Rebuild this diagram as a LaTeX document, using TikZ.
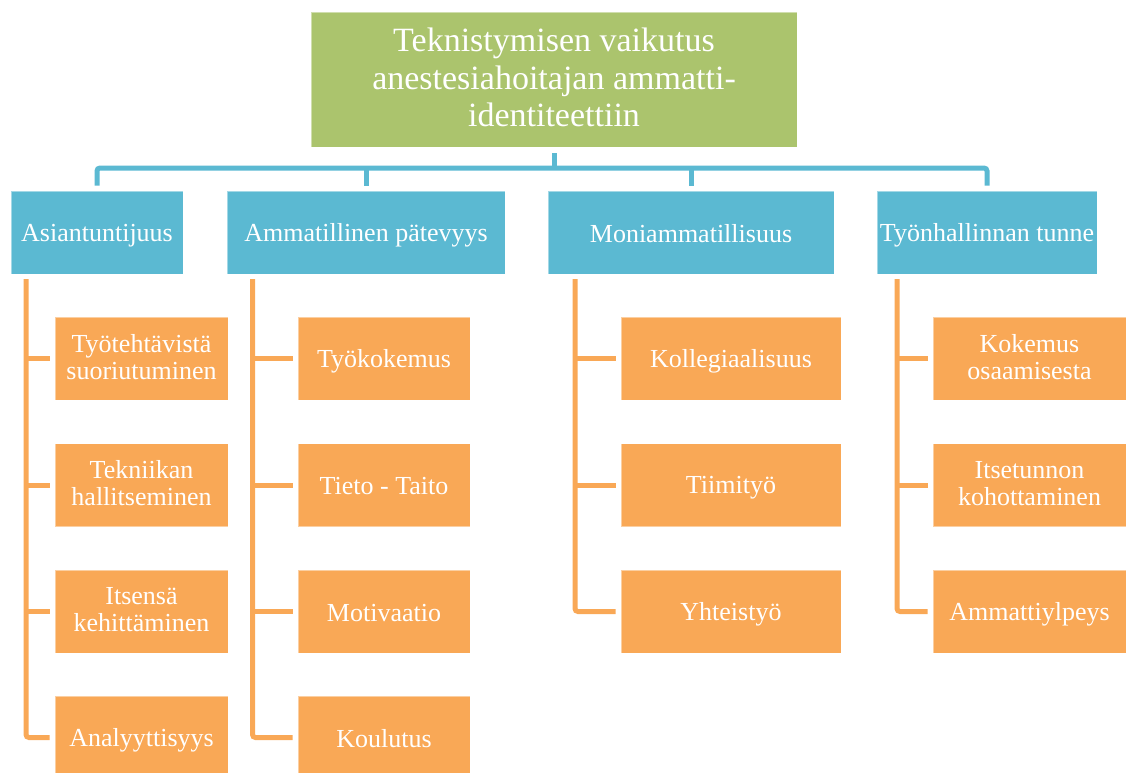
\documentclass[tikz,border=0pt]{standalone}
\usepackage{fontspec}
\setmainfont{Liberation Serif}
\definecolor{topgreen}{HTML}{ABC46D}
\definecolor{catblue}{HTML}{5BB9D2}
\definecolor{leaforange}{HTML}{F9A856}
% invisible rules that fix the height of the first line and the depth of the last one
\newcommand{\lineh}[1]{\rule{0pt}{#1}}
\newcommand{\lined}[1]{\rule[-#1]{0pt}{#1}}
\tikzset{
  boxbase/.style={rectangle, inner sep=0pt, text=white, align=center,
    draw=white, draw opacity=0.45, line width=0.8pt},
  topbox/.style={boxbase, fill=topgreen, minimum width=486pt, minimum height=135pt,
    font=\fontsize{34}{37.5}\selectfont,
    execute at begin node={\lineh{31pt}}, execute at end node={\lined{4pt}}},
  smallbox/.style={boxbase, minimum height=83pt,
    font=\fontsize{26}{27}\selectfont,
    execute at begin node={\lineh{23pt}}, execute at end node={\lined{4pt}}},
  catbox/.style={smallbox, fill=catblue},
  leafbox/.style={smallbox, fill=leaforange},
  blueline/.style={draw=catblue, line width=5pt, rounded corners=3pt},
  orangeline/.style={draw=leaforange, line width=5pt, rounded corners=3pt},
}
\begin{document}
\begin{tikzpicture}[x=1pt, y=-1pt]
\useasboundingbox (0,0) rectangle (1127,773);

% root
\node[topbox] (top) at (554,79.5) {Teknistymisen vaikutus\\anestesiahoitajan ammatti-\\identiteettiin};

% categories
\node[catbox, minimum width=172pt] (c1) at (97,232.5) {Asiantuntijuus};
\node[catbox, minimum width=278pt] (c2) at (366,232.5) {Ammatillinen pätevyys};
\node[catbox, minimum width=286pt] (c3) at (691,232.5) {Moniammatillisuus};
\node[catbox, minimum width=220pt] (c4) at (987,232.5) {Työnhallinnan tunne};

% blue connectors
\coordinate (bus) at (554,168);
\draw[blueline] ([yshift=5pt]c1.north) |- (bus -| c4.north) -- ([yshift=5pt]c4.north);
\draw[blueline] ([yshift=-6pt]top.south) -- (top.south |- bus);
\draw[blueline] (c2.north |- bus) -- ([yshift=5pt]c2.north);
\draw[blueline] (c3.north |- bus) -- ([yshift=5pt]c3.north);

% column 1
\node[leafbox, minimum width=173pt] (l11) at (141.5,358.5) {Työtehtävistä\\suoriutuminen};
\node[leafbox, minimum width=173pt] (l12) at (141.5,485) {Tekniikan\\hallitseminen};
\node[leafbox, minimum width=173pt] (l13) at (141.5,611.5) {Itsensä\\kehittäminen};
\node[leafbox, minimum width=173pt] (l14) at (141.5,737.5) {Analyyttisyys};

% column 2
\node[leafbox, minimum width=172pt] (l21) at (384,358.5) {Työkokemus};
\node[leafbox, minimum width=172pt] (l22) at (384,485) {Tieto - Taito};
\node[leafbox, minimum width=172pt] (l23) at (384,611.5) {Motivaatio};
\node[leafbox, minimum width=172pt] (l24) at (384,737.5) {Koulutus};

% column 3
\node[leafbox, minimum width=220pt] (l31) at (731,358.5) {Kollegiaalisuus};
\node[leafbox, minimum width=220pt] (l32) at (731,485) {Tiimityö};
\node[leafbox, minimum width=220pt] (l33) at (731,611.5) {Yhteistyö};

% column 4
\node[leafbox, minimum width=193pt] (l41) at (1029.5,358.5) {Kokemus\\osaamisesta};
\node[leafbox, minimum width=193pt] (l42) at (1029.5,485) {Itsetunnon\\kohottaminen};
\node[leafbox, minimum width=193pt] (l43) at (1029.5,611.5) {Ammattiylpeys};

% orange spines
\coordinate (s1) at (26,279);
\coordinate (s2) at (252.5,279);
\coordinate (s3) at (575,279);
\coordinate (s4) at (897,279);

\draw[orangeline] (s1) |- ([xshift=-5pt]l14.west);
\foreach \n in {l11,l12,l13} \draw[orangeline] (s1 |- \n.west) -- ([xshift=-5pt]\n.west);
\draw[orangeline] (s2) |- ([xshift=-5pt]l24.west);
\foreach \n in {l21,l22,l23} \draw[orangeline] (s2 |- \n.west) -- ([xshift=-5pt]\n.west);
\draw[orangeline] (s3) |- ([xshift=-5pt]l33.west);
\foreach \n in {l31,l32} \draw[orangeline] (s3 |- \n.west) -- ([xshift=-5pt]\n.west);
\draw[orangeline] (s4) |- ([xshift=-5pt]l43.west);
\foreach \n in {l41,l42} \draw[orangeline] (s4 |- \n.west) -- ([xshift=-5pt]\n.west);
\end{tikzpicture}
\end{document}
